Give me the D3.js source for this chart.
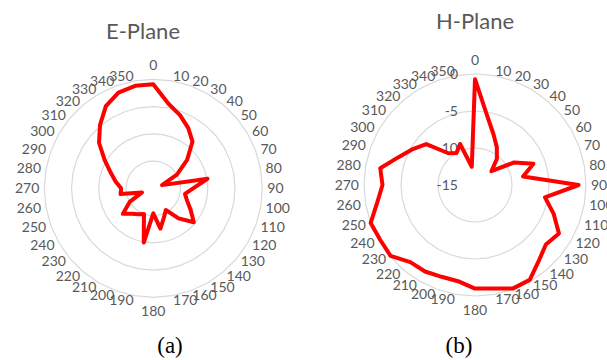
<!DOCTYPE html>
<html>
<head>
<meta charset="utf-8">
<script src="https://cdn.jsdelivr.net/npm/d3@7"></script>
<style>
  body { margin: 0; background: #fff; }
  svg { display: block; }
</style>
</head>
<body>
<div class="polar-chart"></div>
<script>
// angle categories, degrees
const angleLabels = [0, 10, 20, 30, 40, 50, 60, 70, 80, 90, 100, 110, 120, 130, 140, 150, 160, 170,
    180, 190, 200, 210, 220, 230, 240, 250, 260, 270, 280, 290, 300, 310, 320, 330, 340, 350];

// normalised pattern, dB
const ePlane = [-0.9, -4.2, -5.7, -7.2, -8.8, -11.9, -15.0, -18.3, -9.9, -12.7, -14.1, -13.4,
    -12.1, -10.3, -12.8, -15.4, -14.3, -12.5, -15.4, -9.9, -15.0, -14.5, -13.9, -12.7,
    -15.0, -17.8, -13.9, -14.1, -13.0, -11.7, -9.7, -7.0, -4.8, -2.6, -1.3, -0.9];

const hPlane = [-0.7, -5.5, -7.7, -9.1, -10.4, -12.1, -8.9, -6.6, -8.4, -1.0, -5.4, -3.7,
    -1.9, -2.5, -1.6, -0.2, -0.1, -0.8, -1.0, -1.8, -1.8, -1.5, -1.4, -0.1,
    -0.2, 0.0, -1.6, -2.5, -2.0, -4.0, -5.3, -6.4, -9.4, -10.0, -9.1, -12.5];

const eTicks = [-20, -15, -10, -5, 0];
const hTicks = [-15, -10, -5, 0];

const width = 607;
const height = 360;

const svg = d3.select('.polar-chart')
    .append('svg')
    .attr('width', width)
    .attr('height', height);

svg.append('rect')
    .attr('width', width)
    .attr('height', height)
    .attr('fill', '#fff');

const angle = d3.scaleLinear().domain([0, 360]).range([0, 2 * Math.PI]);

function drawRadar(opts) {
    const g = svg.append('g')
        .attr('transform', 'translate(' + opts.cx + ',' + opts.cy + ')');

    const r = d3.scaleLinear()
        .domain(d3.extent(opts.ticks))
        .range([0, opts.radius]);

    // grid rings (polygons through every category)
    const ring = d3.lineRadial()
        .angle(d => angle(d))
        .curve(d3.curveLinearClosed);

    g.selectAll('.ring')
        .data(opts.ticks.slice(1))
        .enter()
        .append('path')
        .attr('class', 'ring')
        .attr('d', t => ring.radius(r(t))(angleLabels))
        .attr('fill', 'none')
        .attr('stroke', '#d9d9d9')
        .attr('stroke-width', 1.2);

    // angle labels
    const lr = opts.radius + 5;
    g.selectAll('.alabel')
        .data(angleLabels)
        .enter()
        .append('text')
        .attr('class', 'alabel')
        .attr('x', d => (d === 0 || d === 180) ? 0 : lr * Math.sin(angle(d)))
        .attr('y', d => {
            if (d === 0) return -(opts.radius + 9);
            if (d === 180) return opts.radius + 19;
            return -lr * Math.cos(angle(d));
        })
        .attr('dy', d => (d === 0 || d === 180) ? 0 : '0.35em')
        .attr('text-anchor', d => (d === 0 || d === 180) ? 'middle' : (d < 180 ? 'start' : 'end'))
        .style('font-family', 'Lato, sans-serif')
        .style('font-size', '14px')
        .style('fill', '#595959')
        .text(d => d);

    // radial value labels
    if (opts.showValues) {
        g.selectAll('.vlabel')
            .data(opts.ticks)
            .enter()
            .append('text')
            .attr('class', 'vlabel')
            .attr('x', -17)
            .attr('y', t => -r(t))
            .attr('dy', '0.35em')
            .attr('text-anchor', 'end')
            .style('font-family', 'Lato, sans-serif')
            .style('font-size', '14px')
            .style('fill', '#595959')
            .text(t => t);
    }

    // pattern line
    const line = d3.lineRadial()
        .angle((d, i) => angle(angleLabels[i]))
        .radius(d => r(d))
        .curve(d3.curveLinearClosed);

    g.append('path')
        .datum(opts.values)
        .attr('d', line)
        .attr('fill', 'none')
        .attr('stroke', '#ff0000')
        .attr('stroke-width', 4)
        .attr('stroke-linejoin', 'round');

    // title
    svg.append('text')
        .attr('x', opts.titleX)
        .attr('y', opts.titleY)
        .attr('text-anchor', 'middle')
        .style('font-family', 'Lato, sans-serif')
        .style('font-size', '22px')
        .style('fill', '#595959')
        .text(opts.title);

    // caption
    svg.append('text')
        .attr('x', opts.capX)
        .attr('y', 353)
        .attr('text-anchor', 'middle')
        .style('font-family', '"Liberation Serif", "Times New Roman", serif')
        .style('font-size', '23px')
        .style('fill', '#000')
        .text(opts.caption);
}

drawRadar({ cx: 153.3, cy: 188.3, radius: 109, ticks: eTicks, values: ePlane, showValues: false,
    title: 'E-Plane', titleX: 143, titleY: 39, caption: '(a)', capX: 170 });

drawRadar({ cx: 475, cy: 185, radius: 111, ticks: hTicks, values: hPlane, showValues: true,
    title: 'H-Plane', titleX: 475, titleY: 29, caption: '(b)', capX: 459 });
</script>
</body>
</html>
